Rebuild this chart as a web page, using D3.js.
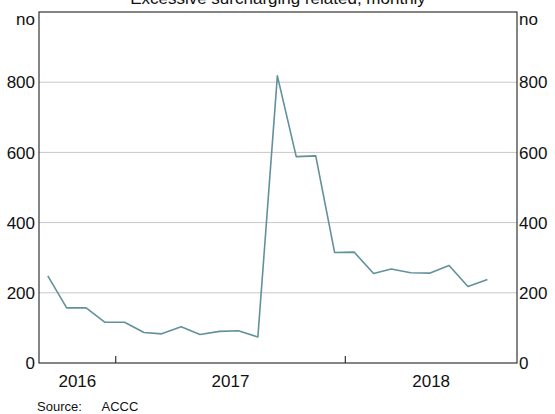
<!DOCTYPE html>
<html>
<head>
<meta charset="utf-8">
<script src="https://cdn.jsdelivr.net/npm/d3@7"></script>
<style>
  html, body { margin: 0; padding: 0; background: #fff; }
  svg { display: block; font-family: Arial, "Liberation Sans", sans-serif; }
</style>
</head>
<body>
<svg id="chart" width="555" height="414"></svg>
<script>
// Data: monthly counts, Sep 2016 – Aug 2018
const months = ["2016-09","2016-10","2016-11","2016-12","2017-01","2017-02","2017-03","2017-04",
  "2017-05","2017-06","2017-07","2017-08","2017-09","2017-10","2017-11","2017-12",
  "2018-01","2018-02","2018-03","2018-04","2018-05","2018-06","2018-07","2018-08"];
const values = [248, 157, 157, 116, 116, 87, 83, 103, 81, 90, 92, 74, 818, 588, 590, 315,
  316, 255, 268, 257, 256, 278, 218, 238];
const yTicks = [0, 200, 400, 600, 800];
const yearLabels = ["2016", "2017", "2018"];
const title = "Excessive surcharging related, monthly";
const unitLabel = "no";
const sourceLabel = "Source:";
const sourceText = "ACCC";

const svg = d3.select("#chart");
const pLeft = 39, pRight = 517, pTop = 12, pBottom = 363;

const parse = d3.utcParse("%Y-%m");
const data = months.map((m, i) => {
  const d = parse(m);
  return { date: d3.utcDay.offset(d, 14), value: values[i] };
});

const x = d3.scaleUtc()
  .domain([new Date(Date.UTC(2016, 8, 1)), new Date(Date.UTC(2018, 9, 1))])
  .range([pLeft, pRight]);
const y = d3.scaleLinear().domain([0, 1000]).range([pBottom, pTop]);

// gridlines
svg.append("g").selectAll("line")
  .data(yTicks.filter(d => d > 0))
  .join("line")
  .attr("x1", pLeft).attr("x2", pRight)
  .attr("y1", d => y(d)).attr("y2", d => y(d))
  .attr("stroke", "#c8c8c8").attr("stroke-width", 1);

// line
const line = d3.line().x(d => x(d.date)).y(d => y(d.value));
svg.append("path")
  .datum(data)
  .attr("fill", "none")
  .attr("stroke", "#62919b")
  .attr("stroke-width", 1.6)
  .attr("stroke-linejoin", "round")
  .attr("d", line);

// frame
svg.append("rect")
  .attr("x", pLeft).attr("y", y(1000))
  .attr("width", pRight - pLeft).attr("height", pBottom - y(1000))
  .attr("fill", "none").attr("stroke", "#222").attr("stroke-width", 1.1);

// year ticks (inside, at year boundaries)
const yearStarts = [new Date(Date.UTC(2017, 0, 1)), new Date(Date.UTC(2018, 0, 1))];
svg.append("g").selectAll("line")
  .data(yearStarts)
  .join("line")
  .attr("x1", d => x(d)).attr("x2", d => x(d))
  .attr("y1", pBottom).attr("y2", pBottom - 7)
  .attr("stroke", "#222").attr("stroke-width", 1.1);

// year labels centred in visible span of each year
const dom = x.domain();
svg.append("g").selectAll("text")
  .data(yearLabels)
  .join("text")
  .attr("x", d => {
    const s = new Date(Date.UTC(+d, 0, 1)), e = new Date(Date.UTC(+d + 1, 0, 1));
    const a = x(s < dom[0] ? dom[0] : s), b = x(e > dom[1] ? dom[1] : e);
    return (a + b) / 2;
  })
  .attr("y", 387)
  .attr("text-anchor", "middle")
  .attr("font-size", 17)
  .attr("fill", "#111")
  .text(d => d);

// y tick labels left and right
const lab = svg.append("g").attr("font-size", 17).attr("fill", "#111");
lab.selectAll("text.l")
  .data(yTicks)
  .join("text").attr("class", "l")
  .attr("x", pLeft - 4)
  .attr("y", d => y(d))
  .attr("dy", "0.36em")
  .attr("text-anchor", "end")
  .text(d => d);
lab.selectAll("text.r")
  .data(yTicks)
  .join("text").attr("class", "r")
  .attr("x", pRight + 2)
  .attr("y", d => y(d))
  .attr("dy", "0.36em")
  .attr("text-anchor", "start")
  .text(d => d);

// unit labels
lab.append("text").attr("x", pLeft - 4).attr("y", 25).attr("text-anchor", "end").text(unitLabel);
lab.append("text").attr("x", pRight + 2).attr("y", 25).attr("text-anchor", "start").text(unitLabel);

// title (partially cut off at top, as in the reference)
svg.append("text")
  .attr("x", (pLeft + pRight) / 2).attr("y", 3.5)
  .attr("text-anchor", "middle")
  .attr("font-size", 17).attr("fill", "#111")
  .text(title);

// source
svg.append("text").attr("x", 37).attr("y", 411).attr("font-size", 13).attr("fill", "#111").text(sourceLabel);
svg.append("text").attr("x", 101.5).attr("y", 411).attr("font-size", 13).attr("fill", "#111").text(sourceText);
</script>
</body>
</html>
